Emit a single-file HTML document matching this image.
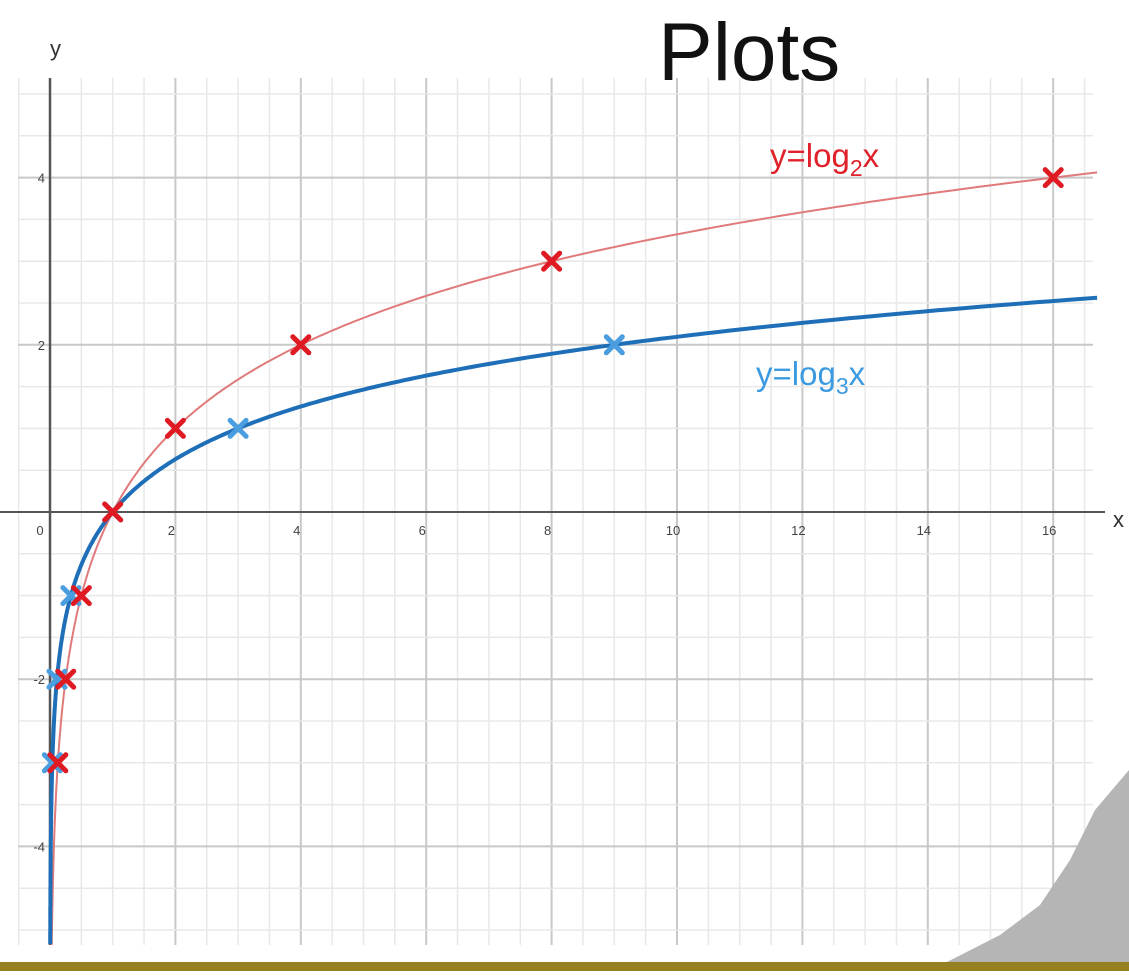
<!DOCTYPE html>
<html><head><meta charset="utf-8"><style>
body{margin:0;background:#fff;width:1129px;height:971px;overflow:hidden;font-family:"Liberation Sans",sans-serif}
</style></head><body>
<svg id="chart" width="1129" height="971" xmlns="http://www.w3.org/2000/svg">
<text x="658" y="80" font-size="82" fill="#111">Plots</text>
<g id="grid"></g>
<g id="curves"></g>
<g id="marks"></g>
<text x="770" y="167" font-size="33" fill="#e0202a">y=log<tspan font-size="23" dy="9">2</tspan><tspan dy="-9">x</tspan></text>
<text x="756" y="385" font-size="33" fill="#3c9be0">y=log<tspan font-size="23" dy="9">3</tspan><tspan dy="-9">x</tspan></text>
<path d="M945,963 L1000,935 L1040,905 L1070,860 L1095,810 L1129,770 L1129,963 Z" fill="#b5b5b5"/>
<rect x="0" y="962" width="1129" height="9" fill="#968020"/>
</svg>
<script>
const xTicks=[0,2,4,6,8,10,12,14,16];
const yTicks=[-4,-2,2,4];
const log2X=[0.125,0.25,0.5,1,2,4,8,16];
const log3X=[1/27,1/9,1/3,1,3,9];
const NS="http://www.w3.org/2000/svg";
const X0=50,XU=62.7,Y0=512,YU=83.6;
const sx=v=>X0+v*XU, sy=v=>Y0-v*YU;
const top_=78,bot=945,left=18,right=1093;
function el(t,a,p){const e=document.createElementNS(NS,t);for(const k in a)e.setAttribute(k,a[k]);p.appendChild(e);return e;}
const grid=document.getElementById('grid');
for(let v=-0.5;sx(v)<=right;v+=0.5){
  const major=Math.abs(v%2)<1e-9;
  const l=el('line',{x1:sx(v),x2:sx(v),y1:top_,y2:bot,stroke:major?'#c8c8c8':'#e8e8e8','stroke-width':major?2:1.5},grid);
  
  
}
for(let v=-5.5;v<=5;v+=0.5){
  if(sy(v)<top_||sy(v)>bot)continue;
  const major=Math.abs(v%2)<1e-9;
  const l=el('line',{x1:left,x2:right,y1:sy(v),y2:sy(v),stroke:major?'#c8c8c8':'#e8e8e8','stroke-width':major?2:1.5},grid);
  
  
}
let a=el('line',{x1:0,x2:1105,y1:Y0,y2:Y0,stroke:'#555','stroke-width':2},grid);

a=el('line',{x1:X0,x2:X0,y1:top_,y2:bot,stroke:'#555','stroke-width':2.5},grid);

let t=el('text',{x:1113,y:527,'font-size':22,fill:'#333'},grid);t.textContent='x';

t=el('text',{x:50,y:56,'font-size':22,fill:'#333'},grid);t.textContent='y';

xTicks.forEach(v=>{const e=el('text',{x:sx(v)-(v===0?10:4),y:535,'font-size':13,fill:'#444','text-anchor':'middle'},grid);e.textContent=v;
});
yTicks.forEach(v=>{const e=el('text',{x:45,y:sy(v)+5,'font-size':13,fill:'#444','text-anchor':'end'},grid);e.textContent=v;
});
const curves=document.getElementById('curves');
function curve(base,color,w,name){
  let d='';let first=true;
  for(let i=0;i<=800;i++){const x=Math.exp(Math.log(1e-4)+(Math.log(16.7)-Math.log(1e-4))*i/800);
    let y=sy(Math.log(x)/Math.log(base));if(y>bot)continue;
    d+=(first?'M':'L')+sx(x).toFixed(1)+','+y.toFixed(1);first=false;}
  const p=el('path',{d:d,fill:'none',stroke:color,'stroke-width':w},curves);
  
}
curve(2,'#e07a7a',2,'log2-curve');
curve(3,'#1f6fb8',4,'log3-curve');
const marks=document.getElementById('marks');
function cross(x,y,color,name){const s=8;
  const g=el('g',{stroke:color,'stroke-width':5,'stroke-linecap':'round'},marks);
  
  el('line',{x1:x-s,y1:y-s,x2:x+s,y2:y+s},g);el('line',{x1:x-s,y1:y+s,x2:x+s,y2:y-s},g);}
log3X.forEach(v=>cross(sx(v),sy(Math.log(v)/Math.log(3)),'#4a9ee0','log3-point'));
log2X.forEach(v=>cross(sx(v),sy(Math.log2(v)),'#e01a22','log2-point'));
</script>
</body></html>
